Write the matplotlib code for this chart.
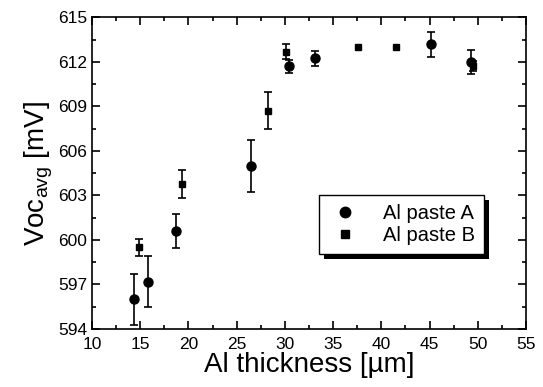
import numpy as np
import matplotlib
matplotlib.use("Agg")
import matplotlib.pyplot as plt
from matplotlib.ticker import MultipleLocator
from matplotlib.lines import Line2D
from matplotlib.patches import Rectangle
from matplotlib.transforms import IdentityTransform

plt.rcParams['font.family'] = ['Liberation Sans', 'DejaVu Sans']
plt.rcParams['mathtext.fontset'] = 'custom'
plt.rcParams['mathtext.rm'] = 'Liberation Sans'

# paste A (circles)
thick_a = [14.4, 15.8, 18.7, 26.5, 30.4, 33.1, 45.1, 49.3]
voc_a = [596.0, 597.2, 600.6, 605.0, 611.7, 612.25, 613.2, 612.0]
err_a = [1.7, 1.7, 1.15, 1.75, 0.45, 0.5, 0.85, 0.8]

# paste B (squares) -- the two points near 37-42 um have no visible bars
thick_b = [14.9, 19.3, 28.3, 30.1, 37.6, 41.5, 49.5]
voc_b = [599.5, 603.75, 608.7, 612.7, 613.0, 613.0, 611.75]
err_b = [0.55, 0.95, 1.25, 0.5, np.nan, np.nan, 0.35]

fig = plt.figure(figsize=(5.43, 3.87), dpi=100)
ax = fig.add_axes([0.1694, 0.1499, 0.7993, 0.8049])

ax.errorbar(thick_a, voc_a, yerr=err_a, fmt='o', color='k', ms=6.5,
            capsize=3, elinewidth=1.2, capthick=1.2)
ax.errorbar(thick_b, voc_b, yerr=err_b, fmt='s', color='k', ms=5,
            capsize=3, elinewidth=1.2, capthick=1.2)

ax.set_xlim(10, 55)
ax.set_ylim(594, 615)
ax.xaxis.set_major_locator(MultipleLocator(5))
ax.xaxis.set_minor_locator(MultipleLocator(2.5))
ax.yaxis.set_major_locator(MultipleLocator(3))
ax.yaxis.set_minor_locator(MultipleLocator(1.5))
ax.tick_params(which='both', direction='in', top=True, right=True,
               labelsize=12.5, width=1.2)
ax.tick_params(which='major', length=6)
ax.tick_params(which='minor', length=3)
ax.tick_params(axis='x', which='major', pad=6)
for s in ax.spines.values():
    s.set_linewidth(1.2)

ax.set_xlabel('Al thickness [µm]', fontsize=20, labelpad=0)
ax.set_ylabel(r'Voc$_\mathregular{avg}$ [mV]', fontsize=20, labelpad=2)

handles = [Line2D([], [], ls='none', marker='o', color='k', ms=7.5),
           Line2D([], [], ls='none', marker='s', color='k', ms=5.5)]
leg = ax.legend(handles, ['Al paste A', 'Al paste B'],
                loc='upper left', bbox_to_anchor=(0.524, 0.431),
                borderaxespad=0, fancybox=False, edgecolor='k',
                framealpha=1, fontsize=14.5, handletextpad=1.1,
                borderpad=0.45, handlelength=1.6, labelspacing=0.15)
leg.get_frame().set_linewidth(1.0)

# hard black drop shadow, offset a few pixels right/down
fig.canvas.draw()
bb = leg.get_window_extent()
off = 5
shadow = Rectangle((bb.x0 + off, bb.y0 - off), bb.width, bb.height,
                   transform=IdentityTransform(), facecolor='k',
                   edgecolor='none', zorder=4.9)
ax.add_artist(shadow)
leg.set_zorder(5)

fig.savefig('out.png', dpi=100)
